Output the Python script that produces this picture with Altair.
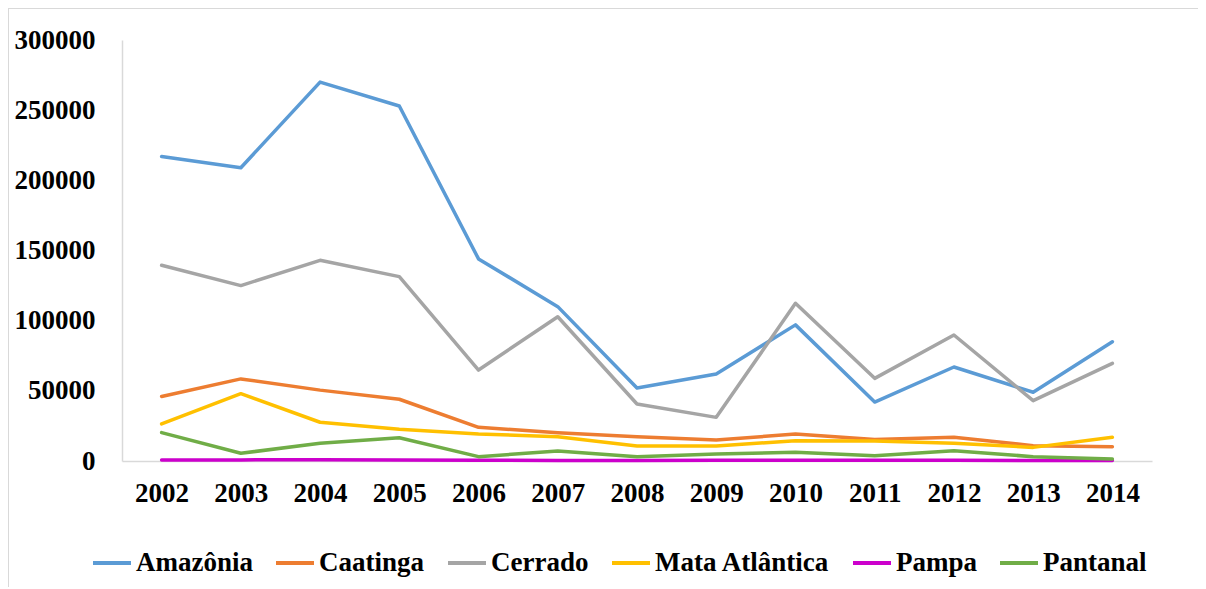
import altair as alt
import pandas as pd

years = [str(y) for y in range(2002, 2015)]
biomes = ["Amazônia", "Caatinga", "Cerrado", "Mata Atlântica", "Pampa", "Pantanal"]
colors = ["#5B9BD5", "#ED7D31", "#A5A5A5", "#FFC000", "#CC00CC", "#70AD47"]

amazonia = [217000, 209000, 270000, 253000, 144000, 110000, 52000, 62000, 97000, 42000, 67000, 49000, 85000]
caatinga = [46000, 58500, 50500, 44000, 24000, 20200, 17300, 15000, 19200, 15400, 16900, 10900, 10200]
cerrado = [139500, 125000, 143000, 131400, 64800, 102800, 40600, 31100, 112400, 58900, 89800, 43000, 69600]
mata_atlantica = [26400, 48000, 27600, 22600, 19200, 17300, 10700, 10700, 14500, 14300, 12600, 9700, 16900]
pampa = [700, 800, 900, 700, 500, 400, 400, 500, 500, 600, 500, 400, 300]
pantanal = [20200, 5500, 12600, 16600, 3100, 7100, 3100, 5000, 6200, 3800, 7300, 3100, 1400]

series = [amazonia, caatinga, cerrado, mata_atlantica, pampa, pantanal]
rows = []
for name, vals in zip(biomes, series):
    for y, v in zip(years, vals):
        rows.append({"Ano": y, "Bioma": name, "Valor": v})
df = pd.DataFrame(rows)

FONT = "Liberation Serif"

lines = alt.Chart(df).mark_line(strokeWidth=3.5, strokeCap="round", strokeJoin="round").encode(
    x=alt.X("Ano:O", sort=years, scale=alt.Scale(type="point", padding=0.5),
            axis=alt.Axis(title=None, labelAngle=0, ticks=False, labelPadding=19,
                          domainColor="#D9D9D9", domainWidth=1.5,
                          labelFont=FONT, labelFontSize=27, labelFontWeight="bold",
                          labelColor="#000000")),
    y=alt.Y("Valor:Q", scale=alt.Scale(domain=[0, 300000], nice=False),
            axis=alt.Axis(title=None, values=[0, 50000, 100000, 150000, 200000, 250000, 300000],
                          format="d", grid=False, ticks=False, labelPadding=27,
                          domainColor="#D9D9D9", domainWidth=1.5,
                          labelFont=FONT, labelFontSize=27, labelFontWeight="bold",
                          labelColor="#000000")),
    color=alt.Color("Bioma:N", sort=biomes,
                    scale=alt.Scale(domain=biomes, range=colors),
                    legend=alt.Legend(title=None, orient="none", direction="horizontal",
                                      legendX=-31, legendY=502,
                                      symbolType="stroke", symbolSize=1444, symbolStrokeWidth=4,
                                      labelFont=FONT, labelFontSize=27, labelFontWeight="bold",
                                      labelColor="#000000", labelOffset=3, columnPadding=15,
                                      labelLimit=400)),
    order=alt.Order("Bioma:N"),
)

border_top = alt.Chart(df).mark_rule(color="#D9D9D9", strokeWidth=2, clip=False).encode(
    x=alt.value(-114), x2=alt.value(1100), y=alt.value(-32))
border_left = alt.Chart(df).mark_rule(color="#D9D9D9", strokeWidth=2, clip=False).encode(
    x=alt.value(-114), y=alt.value(-32), y2=alt.value(560))

chart = alt.layer(border_top, border_left, lines).properties(
    width=1030, height=421,
    background="white",
    padding={"left": 114, "top": 32, "right": 46, "bottom": 126},
    autosize=alt.AutoSizeParams(type="none"),
).configure_view(stroke=None, strokeWidth=0)

chart.save("out.html", embed_options={"renderer": "svg", "actions": False})
